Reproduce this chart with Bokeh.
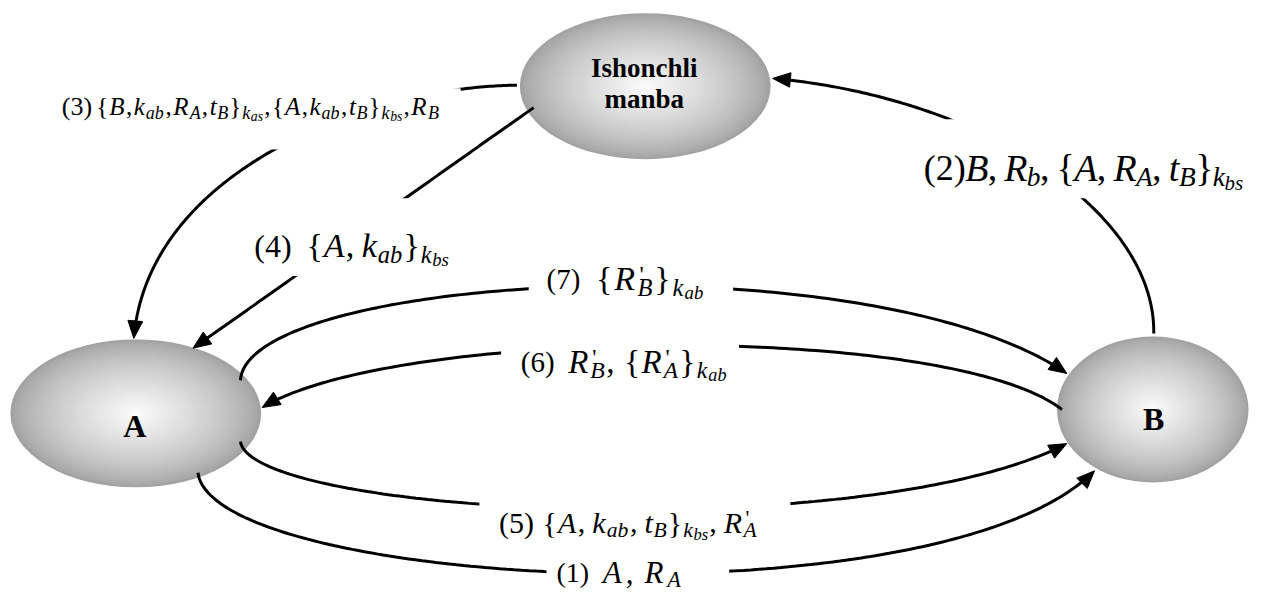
import numpy as np
from bokeh.plotting import figure
from bokeh.models import Range1d, ColumnDataSource
from bokeh.embed import file_html
from bokeh.resources import INLINE
from bokeh.core.properties import value

# ---------------- data ----------------
node_names = ["Ishonchli manba", "A", "B"]
node_text_lines = [["Ishonchli", "manba"], ["A"], ["B"]]

msg_steps = ["(1)", "(2)", "(3)", "(4)", "(5)", "(6)", "(7)"]
msg_from = ["A", "B", "Ishonchli manba", "Ishonchli manba", "A", "B", "A"]
msg_to = ["B", "Ishonchli manba", "A", "A", "B", "A", "B"]
msg_formulas = [
    r"A,R_A",
    r"B,R_b,\{A,R_A,t_B\}_{k_{bs}}",
    r"\{B,k_{ab},R_A,t_B\}_{k_{as}},\{A,k_{ab},t_B\}_{k_{bs}},R_B",
    r"\{A,k_{ab}\}_{k_{bs}}",
    r"\{A,k_{ab},t_B\}_{k_{bs}},R'_A",
    r"R'_B,\{R'_A\}_{k_{ab}}",
    r"\{R'_B\}_{k_{ab}}",
]

# ---------------- layout (geometry of the drawing, in reference pixels) ----------------
W, H = 1251, 594
RW, RH = 1267, 610          # drawing coordinate space
SX, SY = W / RW, H / RH     # screen px per drawing unit
FONT = value("Liberation Serif")

node_geom = {  # cx, cy, rx, ry
    "Ishonchli manba": (653, 88, 127, 75),
    "A": (137, 424, 127, 76),
    "B": (1167, 420, 97, 75),
}
node_text_pos = {  # x, baselines, font px
    "Ishonchli manba": (652, [69, 101], 27),
    "A": (136, [437], 32),
    "B": (1168, [430], 32),
}

edge_ctrl = {  # cubic bezier control points, end = arrow tip
    "(1)": [(200, 485), (215, 603), (950, 643), (1108, 483)],
    "(2)": [(1168, 342), (1170, 220), (1000, 100), (782, 80)],
    "(3)": [(523, 87), (380, 88), (150, 170), (135, 347)],
    "(4)": [(540, 110), (425, 192), (310, 275), (195, 357)],
    "(5)": [(243, 453), (255, 530), (880, 560), (1080, 455)],
    "(6)": [(1075, 420), (960, 330), (400, 335), (265, 418)],
    "(7)": [(243, 390), (250, 280), (880, 245), (1080, 383)],
}

label_geom = {  # step x, step font, formula x0, x1, baseline, formula font, comma gap, box
    "(1)": dict(sx=563, fs=28, x0=610, x1=692, y=587, f=31, cg=250, box=(553, 738, 563, 612)),
    "(2)": dict(sx=935, fs=36, x0=977, x1=1258, y=172, f=38, cg=200, box=(925, 1262, 122, 203)),
    "(3)": dict(sx=62, fs=26, x0=97, x1=445, y=109, f=25, cg=40, box=(55, 466, 90, 153)),
    "(4)": dict(sx=257, fs=32, x0=310, x1=455, y=252, f=34, cg=200, box=(245, 470, 203, 283)),
    "(5)": dict(sx=505, fs=30, x0=549, x1=767, y=536, f=30, cg=200, box=(485, 800, 505, 553)),
    "(6)": dict(sx=527, fs=29, x0=575, x1=737, y=371, f=33, cg=250, box=(507, 748, 340, 385)),
    "(7)": dict(sx=553, fs=29, x0=603, x1=714, y=286, f=34, cg=250, box=(535, 742, 260, 305)),
}

REG_W = {'(': 333, ')': 333, '{': 480, '}': 480, ',': 250, ' ': 250, "'": 180}
ITA_W = {'A': 611, 'B': 611, 'R': 611, 'a': 500, 'b': 500, 'k': 444, 's': 389, 't': 278}
SIZE = [1.0, 0.72, 0.55]
SHIFT = [0.0, 0.24, 0.40]


def parse(s, level=0):
    toks = []
    i = 0
    while i < len(s):
        c = s[i]
        if c == "\\":
            toks.append([s[i + 1], "normal", level, False]); i += 2
        elif c == "_":
            if s[i + 1] == "{":
                depth, j = 1, i + 2
                while depth:
                    if s[j] == "\\":
                        j += 2
                        continue
                    if s[j] == "{":
                        depth += 1
                    elif s[j] == "}":
                        depth -= 1
                    j += 1
                toks += parse(s[i + 2:j - 1], level + 1); i = j
            else:
                toks += parse(s[i + 1], level + 1); i += 2
        elif c == "'":
            toks.append(["'", "normal", level, True]); i += 1
        elif c.isalpha():
            toks.append([c, "italic", level, False]); i += 1
        else:
            toks.append([c, "normal", level, False]); i += 1
    return toks


def merge(toks):
    runs = []
    for t in toks:
        if runs and t[1] == "italic" and runs[-1][1] == "italic" and runs[-1][2] == t[2] \
                and not t[3] and not runs[-1][3]:
            runs[-1][0] += t[0]
        else:
            runs.append(list(t))
    return runs


def char_w(c, style):
    return (ITA_W if style == "italic" else REG_W).get(c, 500)


def layout_formula(formula, x0, x1, base, f, cg):
    """Returns (x, y, text, style, font px) with x, y in drawing units."""
    runs = merge(parse(formula))
    adv = []
    for text, style, lev, prime in runs:
        size = f * SIZE[lev]
        if prime:
            adv.append(0.0)
            continue
        w = sum(char_w(c, style) + (cg if c == "," else 0) for c in text)
        adv.append(w * size / 1000.0)
    k = (x1 - x0) * SX / sum(adv)
    out = []
    x = x0
    for (text, style, lev, prime), a in zip(runs, adv):
        size = f * SIZE[lev]
        if prime:
            out.append((x + 0.06 * f / SX, base + (SHIFT[lev] - 0.15) * f / SY, text, style, 0.7 * size))
        else:
            out.append((x, base + SHIFT[lev] * f / SY, text, style, size))
        x += a * k / SX
    return out


def bez(P, n=160):
    P = np.array(P, float)
    t = np.linspace(0, 1, n)[:, None]
    return ((1 - t) ** 3) * P[0] + 3 * ((1 - t) ** 2) * t * P[1] + 3 * (1 - t) * t * t * P[2] + t ** 3 * P[3]


# ---------------- figure ----------------
p = figure(width=W, height=H, x_range=Range1d(0, RW), y_range=Range1d(RH, 0),
           x_axis_type=None, y_axis_type=None, output_backend="svg",
           toolbar_location=None, min_border=0)
p.grid.visible = False
p.outline_line_color = None
p.background_fill_color = "white"
p.border_fill_color = "white"

# nodes: radial gray gradient made of concentric ellipses
bands = np.linspace(1.0, 0.03, 36)
ex, ey, ew, eh, ec = [], [], [], [], []
for name in node_names:
    cx, cy, rx, ry = node_geom[name]
    for s in bands:
        g = int(round(162 + (252 - 162) * (1 - s) ** 0.75))
        ex.append(cx); ey.append(cy); ew.append(2 * rx * s); eh.append(2 * ry * s)
        ec.append("#%02x%02x%02x" % (g, g, g))
p.ellipse(x=ex, y=ey, width=ew, height=eh, fill_color=ec, line_color=None)

# message arrows
L, HW = 18.0, 7.5
cxs, cys, axs, ays = [], [], [], []
for step, src, dst in zip(msg_steps, msg_from, msg_to):
    P = edge_ctrl[step]
    pts = bez(P)
    tip = np.array(P[3], float)
    d = tip - np.array(P[2], float)
    d /= np.linalg.norm(d)
    nrm = np.array([-d[1], d[0]])
    dist = np.linalg.norm(pts - tip, axis=1)
    keep = pts[dist > L * 0.75]
    cxs.append(list(keep[:, 0])); cys.append(list(keep[:, 1]))
    base = tip - L * d
    c1 = base + HW * nrm
    c2 = base - HW * nrm
    axs.append([tip[0], c1[0], c2[0]]); ays.append([tip[1], c1[1], c2[1]])
p.multi_line(xs=cxs, ys=cys, line_color="black", line_width=3)
p.patches(xs=axs, ys=ays, fill_color="black", line_color="black", line_width=1)

# white text boxes of the labels
bl, br, bt, bb = [], [], [], []
for step in msg_steps:
    x0, x1, y0, y1 = label_geom[step]["box"]
    bl.append(x0); br.append(x1); bt.append(y0); bb.append(y1)
p.quad(left=bl, right=br, top=bt, bottom=bb, fill_color="white", line_color=None)

# label texts
groups = {"normal": dict(x=[], y=[], text=[], size=[]),
          "italic": dict(x=[], y=[], text=[], size=[])}
for step, formula in zip(msg_steps, msg_formulas):
    g = label_geom[step]
    groups["normal"]["x"].append(g["sx"]); groups["normal"]["y"].append(g["y"])
    groups["normal"]["text"].append(step); groups["normal"]["size"].append("%.1fpx" % g["fs"])
    for x, y, text, style, size in layout_formula(formula, g["x0"], g["x1"], g["y"], g["f"], g["cg"]):
        gr = groups[style]
        gr["x"].append(x); gr["y"].append(y); gr["text"].append(text); gr["size"].append("%.1fpx" % size)
for style, gr in groups.items():
    p.text(x="x", y="y", text="text", source=ColumnDataSource(gr), text_font=FONT,
           text_font_size="size", text_font_style=style, text_align="left",
           text_baseline="alphabetic", text_color="black")

# node texts
nx, ny, nt, ns = [], [], [], []
for name, lines in zip(node_names, node_text_lines):
    x, ys, fsz = node_text_pos[name]
    for line, y in zip(lines, ys):
        nx.append(x); ny.append(y); nt.append(line); ns.append("%dpx" % fsz)
p.text(x="x", y="y", text="text", source=ColumnDataSource(dict(x=nx, y=ny, text=nt, size=ns)),
       text_font=FONT, text_font_size="size", text_font_style="bold", text_align="center",
       text_baseline="alphabetic", text_color="black")

open("out.html", "w").write(file_html(p, INLINE))
